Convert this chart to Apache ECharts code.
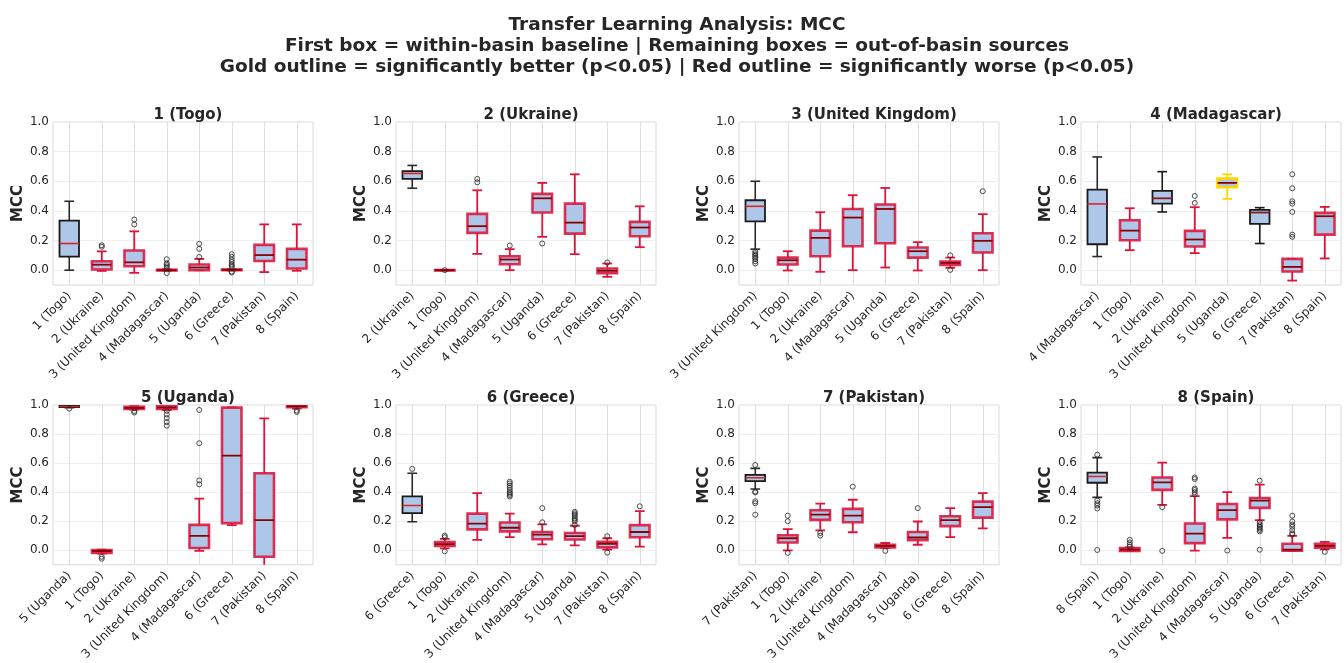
<!DOCTYPE html>
<html>
<head>
<meta charset="utf-8">
<script src="https://cdn.jsdelivr.net/npm/echarts@6/dist/echarts.min.js"></script>
<style>
  html, body { margin: 0; padding: 0; background: #ffffff; }
  #chart { width: 1344px; height: 663px; }
</style>
</head>
<body>
<div id="chart"></div>
<script>
// ---- Figure text ----
const titleLines = [
  'Transfer Learning Analysis: MCC',
  'First box = within-basin baseline | Remaining boxes = out-of-basin sources',
  'Gold outline = significantly better (p<0.05) | Red outline = significantly worse (p<0.05)'
];
const panelTitles = ['1 (Togo)', '2 (Ukraine)', '3 (United Kingdom)', '4 (Madagascar)',
                     '5 (Uganda)', '6 (Greece)', '7 (Pakistan)', '8 (Spain)'];
const yTickValues = [0.0, 0.2, 0.4, 0.6, 0.8, 1.0];

// ---- Source basins on each panel (first = target basin itself) ----
const catsTogo       = ['1 (Togo)', '2 (Ukraine)', '3 (United Kingdom)', '4 (Madagascar)', '5 (Uganda)', '6 (Greece)', '7 (Pakistan)', '8 (Spain)'];
const catsUkraine    = ['2 (Ukraine)', '1 (Togo)', '3 (United Kingdom)', '4 (Madagascar)', '5 (Uganda)', '6 (Greece)', '7 (Pakistan)', '8 (Spain)'];
const catsUK         = ['3 (United Kingdom)', '1 (Togo)', '2 (Ukraine)', '4 (Madagascar)', '5 (Uganda)', '6 (Greece)', '7 (Pakistan)', '8 (Spain)'];
const catsMadagascar = ['4 (Madagascar)', '1 (Togo)', '2 (Ukraine)', '3 (United Kingdom)', '5 (Uganda)', '6 (Greece)', '7 (Pakistan)', '8 (Spain)'];
const catsUganda     = ['5 (Uganda)', '1 (Togo)', '2 (Ukraine)', '3 (United Kingdom)', '4 (Madagascar)', '6 (Greece)', '7 (Pakistan)', '8 (Spain)'];
const catsGreece     = ['6 (Greece)', '1 (Togo)', '2 (Ukraine)', '3 (United Kingdom)', '4 (Madagascar)', '5 (Uganda)', '7 (Pakistan)', '8 (Spain)'];
const catsPakistan   = ['7 (Pakistan)', '1 (Togo)', '2 (Ukraine)', '3 (United Kingdom)', '4 (Madagascar)', '5 (Uganda)', '6 (Greece)', '8 (Spain)'];
const catsSpain      = ['8 (Spain)', '1 (Togo)', '2 (Ukraine)', '3 (United Kingdom)', '4 (Madagascar)', '5 (Uganda)', '6 (Greece)', '7 (Pakistan)'];

// ---- Box statistics: [lower whisker, Q1, median, Q3, upper whisker] ----
const statsTogo = [
  [0.0, 0.092, 0.18, 0.335, 0.465],
  [-0.005, 0.005, 0.037, 0.06, 0.127],
  [-0.018, 0.027, 0.053, 0.133, 0.262],
  [-0.004, -0.002, 0.0, 0.003, 0.006],
  [0.0, 0.0, 0.018, 0.038, 0.076],
  [-0.002, 0.0, 0.002, 0.005, 0.008],
  [-0.013, 0.062, 0.102, 0.171, 0.309],
  [-0.004, 0.011, 0.071, 0.144, 0.309]
];
const statsUkraine = [
  [0.553, 0.616, 0.653, 0.669, 0.707],
  [-0.002, -0.001, 0.0, 0.001, 0.002],
  [0.11, 0.252, 0.297, 0.38, 0.539],
  [0.0, 0.04, 0.072, 0.094, 0.142],
  [0.225, 0.389, 0.485, 0.515, 0.589],
  [0.108, 0.247, 0.321, 0.449, 0.647],
  [-0.045, -0.02, -0.004, 0.011, 0.045],
  [0.155, 0.229, 0.288, 0.326, 0.431]
];
const statsUK = [
  [0.142, 0.33, 0.431, 0.472, 0.6],
  [-0.002, 0.038, 0.067, 0.085, 0.128],
  [-0.011, 0.094, 0.218, 0.267, 0.391],
  [0.0, 0.162, 0.355, 0.413, 0.506],
  [0.018, 0.182, 0.413, 0.443, 0.555],
  [-0.002, 0.085, 0.128, 0.153, 0.189],
  [0.016, 0.036, 0.049, 0.058, 0.085],
  [0.0, 0.119, 0.198, 0.249, 0.378]
];
const statsMadagascar = [
  [0.092, 0.175, 0.447, 0.544, 0.764],
  [0.135, 0.202, 0.267, 0.337, 0.418],
  [0.393, 0.449, 0.485, 0.535, 0.665],
  [0.115, 0.16, 0.207, 0.265, 0.425],
  [0.481, 0.56, 0.589, 0.618, 0.647],
  [0.18, 0.312, 0.389, 0.407, 0.422],
  [-0.07, -0.009, 0.022, 0.076, 0.076],
  [0.079, 0.24, 0.364, 0.387, 0.427]
];
const statsUganda = [
  [0.982, 0.986, 0.99, 0.994, 0.998],
  [-0.022, -0.018, -0.005, 0.002, 0.005],
  [0.968, 0.973, 0.98, 0.988, 0.992],
  [0.965, 0.972, 0.984, 0.997, 1.0],
  [-0.004, 0.016, 0.099, 0.175, 0.355],
  [0.173, 0.187, 0.652, 0.982, 0.984],
  [-0.12, -0.045, 0.207, 0.53, 0.908],
  [0.975, 0.984, 0.99, 0.996, 0.999]
];
const statsGreece = [
  [0.196, 0.256, 0.308, 0.371, 0.53],
  [0.013, 0.029, 0.043, 0.056, 0.079],
  [0.072, 0.144, 0.184, 0.252, 0.393],
  [0.09, 0.13, 0.155, 0.191, 0.252],
  [0.04, 0.076, 0.108, 0.126, 0.178],
  [0.034, 0.074, 0.097, 0.119, 0.169],
  [0.004, 0.02, 0.045, 0.058, 0.083],
  [0.025, 0.09, 0.126, 0.173, 0.27]
];
const statsPakistan = [
  [0.422, 0.476, 0.499, 0.519, 0.564],
  [0.0, 0.054, 0.083, 0.103, 0.146],
  [0.137, 0.209, 0.245, 0.276, 0.321],
  [0.124, 0.193, 0.238, 0.285, 0.348],
  [0.015, 0.02, 0.031, 0.038, 0.05],
  [0.038, 0.07, 0.088, 0.126, 0.198],
  [0.09, 0.166, 0.207, 0.234, 0.29],
  [0.151, 0.225, 0.297, 0.335, 0.393]
];
const statsSpain = [
  [0.364, 0.465, 0.508, 0.535, 0.638],
  [-0.004, -0.004, 0.005, 0.016, 0.02],
  [0.312, 0.416, 0.467, 0.501, 0.604],
  [-0.002, 0.049, 0.115, 0.184, 0.373],
  [0.085, 0.213, 0.276, 0.319, 0.4],
  [0.207, 0.292, 0.342, 0.36, 0.452],
  [-0.002, -0.002, 0.004, 0.045, 0.099],
  [0.007, 0.018, 0.031, 0.045, 0.058]
];

// ---- Outlying runs per box ----
const outliersTogo       = [[], [0.158, 0.168], [0.309, 0.342], [0.074, 0.047, 0.036, 0.025, 0.013, -0.02], [0.089, 0.144, 0.178], [0.108, 0.09, 0.07, 0.055, 0.04, 0.03, 0.02, -0.01, -0.015], [], []];
const outliersUkraine    = [[], [0.0], [0.593, 0.616], [0.166], [0.18], [], [0.052], []];
const outliersUK         = [[0.127, 0.115, 0.105, 0.095, 0.085, 0.075, 0.06, 0.045], [], [], [], [], [], [0.1, 0.002], [0.533]];
const outliersMadagascar = [[], [], [], [0.454, 0.501], [], [], [0.647, 0.553, 0.465, 0.449, 0.393, 0.24, 0.225], []];
const outliersUganda     = [[0.975], [-0.045, -0.058], [0.958, 0.948], [0.96, 0.935, 0.91, 0.882, 0.858], [0.966, 0.737, 0.481, 0.454], [], [], [0.962, 0.952]];
const outliersGreece     = [[0.56], [0.101, 0.09, -0.007], [], [0.472, 0.46, 0.445, 0.43, 0.415, 0.4, 0.39, 0.38, 0.37], [0.29, 0.193], [0.265, 0.255, 0.245, 0.235, 0.22, 0.21, 0.2, 0.175], [0.097, -0.016], [0.303]];
const outliersPakistan   = [[0.587, 0.404, 0.398, 0.337, 0.324, 0.245], [0.238, 0.2, -0.018], [0.119, 0.101], [0.438], [-0.004], [0.29], [], []];
const outliersSpain      = [[0.658, 0.342, 0.324, 0.308, 0.288, 0.002], [0.072, 0.054, 0.038, 0.025], [0.297, -0.004], [0.501, 0.49, 0.425, 0.415, 0.4, 0.385], [-0.002], [0.479, 0.193, 0.18, 0.17, 0.16, 0.15, 0.14, 0.13, 0.004], [0.238, 0.198, 0.178, 0.162, 0.139, 0.117, 0.108], [-0.011]];

// ---- Significance vs. baseline: B = baseline, W = worse, G = better, N = n.s. ----
const sigTogo       = ['B', 'W', 'W', 'W', 'W', 'W', 'W', 'W'];
const sigUkraine    = ['B', 'W', 'W', 'W', 'W', 'W', 'W', 'W'];
const sigUK         = ['B', 'W', 'W', 'W', 'W', 'W', 'W', 'W'];
const sigMadagascar = ['B', 'W', 'N', 'W', 'G', 'N', 'W', 'W'];
const sigUganda     = ['B', 'W', 'W', 'W', 'W', 'W', 'W', 'W'];
const sigGreece     = ['B', 'W', 'W', 'W', 'W', 'W', 'W', 'W'];
const sigPakistan   = ['B', 'W', 'W', 'W', 'W', 'W', 'W', 'W'];
const sigSpain      = ['B', 'W', 'W', 'W', 'W', 'W', 'W', 'W'];

const panels = [
  { cats: catsTogo, stats: statsTogo, out: outliersTogo, sig: sigTogo },
  { cats: catsUkraine, stats: statsUkraine, out: outliersUkraine, sig: sigUkraine },
  { cats: catsUK, stats: statsUK, out: outliersUK, sig: sigUK },
  { cats: catsMadagascar, stats: statsMadagascar, out: outliersMadagascar, sig: sigMadagascar },
  { cats: catsUganda, stats: statsUganda, out: outliersUganda, sig: sigUganda },
  { cats: catsGreece, stats: statsGreece, out: outliersGreece, sig: sigGreece },
  { cats: catsPakistan, stats: statsPakistan, out: outliersPakistan, sig: sigPakistan },
  { cats: catsSpain, stats: statsSpain, out: outliersSpain, sig: sigSpain }
];

// ---- Styling ----
const FONT = 'DejaVu Sans';
const TEXT = '#262626';
const BOX_FILL = '#aec7e8';
const STYLE = {
  B: { edge: '#1a1a1a', edgeW: 1.8, whisk: '#2b2b2b', whiskW: 1.6, med: '#d62728', medW: 1.6 },
  N: { edge: '#1a1a1a', edgeW: 1.8, whisk: '#1a1a1a', whiskW: 1.6, med: '#8b1a1a', medW: 1.8 },
  W: { edge: 'rgba(220,20,60,0.88)', edgeW: 2.6, whisk: '#dc143c', whiskW: 1.8, med: '#8b0000', medW: 1.8 },
  G: { edge: '#ffd700', edgeW: 2.6, whisk: '#ffd700', whiskW: 1.8, med: '#8b0000', medW: 1.8 }
};

const colLeft = [53, 396, 739, 1081];
const rowTop = [122, 405];
const PW = 260, PH = 163;

function makeRender(sig) {
  return function (params, api) {
    const i = api.value(0);
    const pLo = api.coord([i, api.value(1)]);
    const pQ1 = api.coord([i, api.value(2)]);
    const pMd = api.coord([i, api.value(3)]);
    const pQ3 = api.coord([i, api.value(4)]);
    const pHi = api.coord([i, api.value(5)]);
    const band = api.size([1, 0])[0];
    const hw = band * 0.3;
    const cw = hw / 2;
    const x = pMd[0];
    const s = STYLE[sig[params.dataIndex]];
    const wl = { stroke: s.whisk, lineWidth: s.whiskW, fill: null };
    return {
      type: 'group',
      children: [
        { type: 'line', shape: { x1: x, y1: pQ3[1], x2: x, y2: pHi[1] }, style: wl },
        { type: 'line', shape: { x1: x, y1: pQ1[1], x2: x, y2: pLo[1] }, style: wl },
        { type: 'line', shape: { x1: x - cw, y1: pHi[1], x2: x + cw, y2: pHi[1] }, style: wl },
        { type: 'line', shape: { x1: x - cw, y1: pLo[1], x2: x + cw, y2: pLo[1] }, style: wl },
        { type: 'rect', shape: { x: x - hw, y: pQ3[1], width: hw * 2, height: Math.max(pQ1[1] - pQ3[1], 0.5) },
          style: { fill: BOX_FILL, stroke: s.edge, lineWidth: s.edgeW } },
        { type: 'line', shape: { x1: x - hw, y1: pMd[1], x2: x + hw, y2: pMd[1] },
          style: { stroke: s.med, lineWidth: s.medW } }
      ]
    };
  };
}

const option = {
  backgroundColor: '#ffffff',
  animation: false,
  title: [],
  grid: [],
  xAxis: [],
  yAxis: [],
  series: []
};

option.title.push({
  text: titleLines.join('\n'),
  left: 672, top: 10, textAlign: 'center',
  textStyle: { fontFamily: FONT, fontSize: 18.5, fontWeight: 'bold', color: TEXT, lineHeight: 21 }
});

panels.forEach((p, k) => {
  const left = colLeft[k % 4];
  const top = rowTop[Math.floor(k / 4)];
  option.title.push({
    text: panelTitles[k], left: left + PW / 2, top: top - 19, textAlign: 'center',
    textStyle: { fontFamily: FONT, fontSize: 15, fontWeight: 'bold', color: TEXT }
  });
  option.grid.push({ left: left, top: top, width: PW, height: PH, show: true,
    borderColor: '#d9d9d9', borderWidth: 1, backgroundColor: 'transparent', containLabel: false });
  option.xAxis.push({
    type: 'category', gridIndex: k, data: p.cats, boundaryGap: true,
    axisLine: { show: false }, axisTick: { show: false }, splitLine: { show: false },
    axisLabel: { rotate: 45, interval: 0, fontFamily: FONT, fontSize: 12, color: TEXT, margin: 9 }
  });
  option.yAxis.push({
    type: 'value', gridIndex: k, min: -0.1, max: 1.0, interval: 0.1,
    axisLine: { show: false }, axisTick: { show: false }, splitLine: { show: false },
    axisLabel: {
      fontFamily: FONT, fontSize: 12, color: TEXT, margin: 4,
      formatter: v => (v > -0.05 && Math.round(v * 10) % 2 === 0) ? v.toFixed(1) : ''
    },
    name: 'MCC', nameLocation: 'middle', nameGap: 20, nameRotate: 90,
    nameTextStyle: { fontFamily: FONT, fontSize: 15, fontWeight: 'bold', color: TEXT }
  });

  // background grid lines at ticks and category centres, kept beneath the boxes
  option.series.push({
    type: 'line', xAxisIndex: k, yAxisIndex: k, data: [], z: 0, silent: true,
    markLine: {
      z: 0, silent: true, symbol: ['none', 'none'], label: { show: false }, animation: false,
      data: yTickValues.map(v => ({ yAxis: v, lineStyle: { color: '#efefef', width: 1, type: 'solid' } }))
        .concat(p.cats.map(c => ({ xAxis: c, lineStyle: { color: '#dedede', width: 1, type: 'solid' } })))
    }
  });

  option.series.push({
    type: 'custom', xAxisIndex: k, yAxisIndex: k, clip: true, z: 3,
    renderItem: makeRender(p.sig),
    encode: { x: 0, y: [1, 2, 3, 4, 5] },
    data: p.stats.map((s, i) => [i].concat(s))
  });

  const pts = [];
  p.out.forEach((arr, i) => arr.forEach(v => pts.push([i, v])));
  option.series.push({
    type: 'scatter', xAxisIndex: k, yAxisIndex: k, z: 4, symbol: 'circle', symbolSize: 5,
    itemStyle: { color: 'rgba(255,255,255,0)', borderColor: TEXT, borderWidth: 1 },
    data: pts
  });
});

const chart = echarts.init(document.getElementById('chart'), null, { renderer: 'canvas' });
chart.setOption(option);
</script>
</body>
</html>
